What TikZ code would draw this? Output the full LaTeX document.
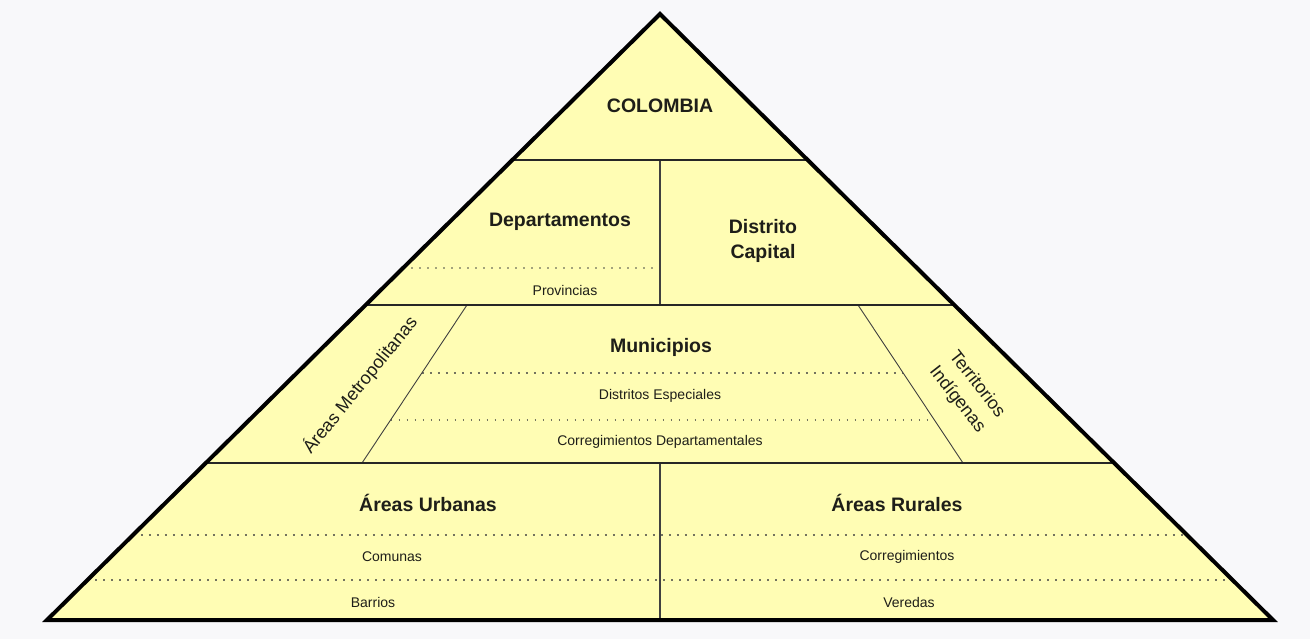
\documentclass[tikz,border=0pt]{standalone}
\usepackage{fontspec}
\setmainfont{Liberation Sans}
\usetikzlibrary{calc}
\definecolor{bgc}{RGB}{248,248,250}
\definecolor{pyr}{RGB}{255,253,180}
\definecolor{txt}{RGB}{30,30,25}
\definecolor{dotc}{RGB}{115,115,95}
\begin{document}
\begin{tikzpicture}[x=1pt,y=-1pt,
 big/.style={font=\fontsize{19.5}{25}\selectfont\bfseries, text=txt, inner sep=0pt, align=center},
 small/.style={font=\fontsize{14}{17}\selectfont, text=txt, inner sep=0pt},
 side/.style={font=\fontsize{18}{25}\selectfont, text=txt, inner sep=0pt, align=center},
 outline/.style={line width=4pt, line join=miter, draw=black},
 tier/.style={line width=2.4pt, draw=black!85},
 thin/.style={line width=1.1pt, draw=black!75},
 dots/.style={draw=dotc, line width=1.3pt, dash pattern=on 1.8pt off 6.2pt}]
\fill[bgc] (0,0) rectangle (1310,639);
\useasboundingbox (0,0) rectangle (1310,639);
\coordinate (apex) at (660,14);
\coordinate (bl) at (47,620);
\coordinate (br) at (1273,620);
\fill[pyr] (apex) -- (bl) -- (br) -- cycle;
\foreach \n/\yy in {a/160, d/268, b/305, c/463, e/535, f/580} {
  \coordinate (L\n) at ($(apex)!{(\yy-14)/606}!(bl)$);
  \coordinate (R\n) at ($(apex)!{(\yy-14)/606}!(br)$);
}
\coordinate (Ta) at (660,160);
\coordinate (Tb) at (660,305);
\coordinate (Md) at (660,268);
\coordinate (Tc) at (660,463);
\coordinate (Tf) at (660,620);
\coordinate (ml1) at (467,305);
\coordinate (ml2) at (362,463);
\coordinate (mr1) at (858,305);
\coordinate (mr2) at (963,463);
% dotted separators
\draw[dots] (Ld) -- (Md);
\draw[dots] ($(ml1)!{68/158}!(ml2)$) -- ($(mr1)!{68/158}!(mr2)$);
\draw[dots] ($(ml1)!{115/158}!(ml2)$) -- ($(mr1)!{115/158}!(mr2)$);
\draw[dots] (Le) -- (Re);
\draw[dots] (Lf) -- (Rf);
% thin dividers
\draw[thin] (Ta) -- (Tb);
\draw[thin] (Tc) -- (Tf);
\draw[thin, line width=0.9pt] (ml1) -- (ml2);
\draw[thin, line width=0.9pt] (mr1) -- (mr2);
% tiers
\draw[tier] (La) -- (Ra);
\draw[tier] (Lb) -- (Rb);
\draw[tier] (Lc) -- (Rc);
% outline
\draw[outline] (apex) -- (bl) -- (br) -- cycle;
% labels
\node[big] (colombia) at (660,106) {COLOMBIA};
\node[big] (dep) at (560,222) {Departamentos};
\node[small] (prov) at (565,290) {Provincias};
\node[big] (dc) at (763,241) {Distrito\\Capital};
\node[big] (mun) at (661,347) {Municipios};
\node[small] (de) at (660,396) {Distritos Especiales};
\node[small] (cd) at (660,442) {Corregimientos Departamentales};
\node[side, rotate=51] (metro) at (360,385) {Áreas Metropolitanas};
\node[side, rotate=-52] (terr) at (967,392) {Territorios\\Indígenas};
\node[big] (urb) at (428,503) {Áreas Urbanas};
\node[small] (com) at (392,557) {Comunas};
\node[small] (bar) at (373,602) {Barrios};
\node[big] (rur) at (897,503) {Áreas Rurales};
\node[small] (corr) at (907,557) {Corregimientos};
\node[small] (ver) at (909,602) {Veredas};
\end{tikzpicture}
\end{document}
